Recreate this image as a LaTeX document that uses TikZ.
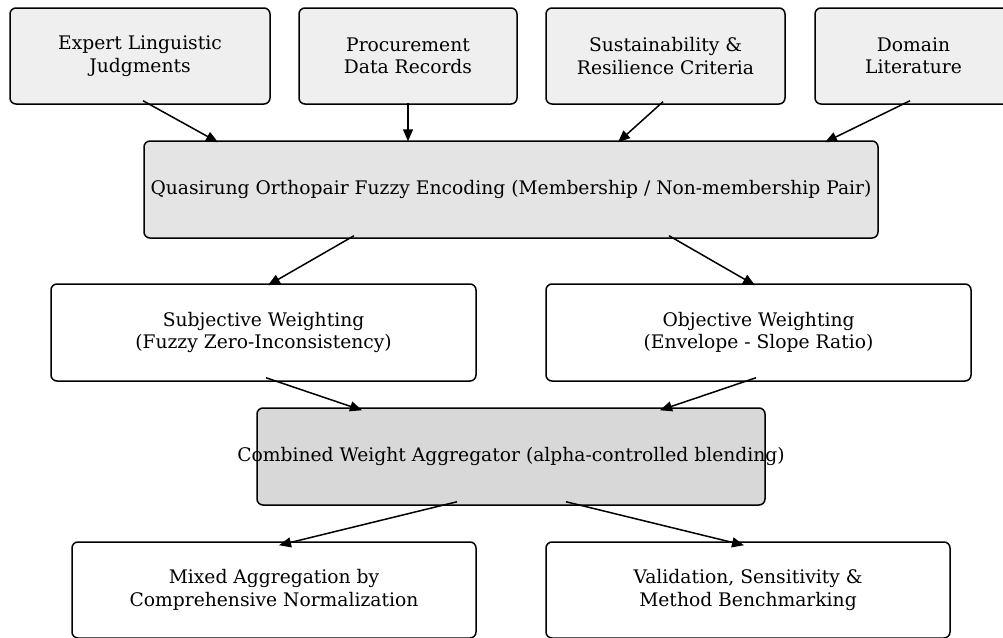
\documentclass[tikz,border=0pt]{standalone}
\usepackage{fontspec}
\setmainfont{DejaVu Serif}
\usetikzlibrary{calc,arrows.meta}
\definecolor{topfill}{HTML}{EFEFEF}
\definecolor{encfill}{HTML}{E4E4E4}
\definecolor{combfill}{HTML}{D8D8D8}
\tikzset{
  box/.style={draw=black, line width=1.5pt, rounded corners=6pt, align=center,
    inner sep=0pt, minimum height=96pt, font=\fontsize{18.7}{22.5}\selectfont},
  arr/.style={line width=1.5pt, -{Triangle[length=12pt,width=10pt]}},
}
\begin{document}
\begin{tikzpicture}[x=1pt,y=-1pt]
\useasboundingbox (0,0) rectangle (1003,637);
\node[box, fill=topfill, minimum width=260pt] (b1) at (140,56) {Expert Linguistic\\Judgments};
\node[box, fill=topfill, minimum width=218pt] (b2) at (408,56) {Procurement\\Data Records};
\node[box, fill=topfill, minimum width=239pt] (b3) at (665.5,56) {Sustainability \&\\Resilience Criteria};
\node[box, fill=topfill, minimum width=197pt] (b4) at (913.5,56) {Domain\\Literature};
\node[box, fill=encfill, minimum width=734pt, minimum height=97pt] (enc) at (511,189.5) {Quasirung Orthopair Fuzzy Encoding (Membership / Non-membership Pair)};
\node[box, fill=white, minimum width=425pt, minimum height=97pt] (subj) at (263.5,332.5) {Subjective Weighting\\(Fuzzy Zero-Inconsistency)};
\node[box, fill=white, minimum width=425pt, minimum height=97pt] (obj) at (758.5,332.5) {Objective Weighting\\(Envelope - Slope Ratio)};
\node[box, fill=combfill, minimum width=508pt, minimum height=97pt] (comb) at (511,456.5) {\makebox[0pt]{Combined Weight Aggregator (alpha-controlled blending)}};
\node[box, fill=white, minimum width=404pt] (mix) at (274,590) {Mixed Aggregation by\\Comprehensive Normalization};
\node[box, fill=white, minimum width=404pt] (val) at (748,590) {Validation, Sensitivity \&\\Method Benchmarking};

\draw[arr] ($(b1.south)+(3,-4)$) -- ($(enc.north)+(-293,2)$);
\draw[arr] ($(b2.south)+(0,-2)$) -- ($(enc.north)+(-103,1)$);
\draw[arr] ($(b3.south)+(-2.5,-3)$) -- ($(enc.north)+(107,2)$);
\draw[arr] ($(b4.south)+(-3.5,-4)$) -- ($(enc.north)+(314,2)$);
\draw[arr] ($(enc.south)+(-157,-3)$) -- ($(subj.north)+(4.5,2)$);
\draw[arr] ($(enc.south)+(158,-3)$) -- ($(obj.north)+(-3.5,2)$);
\draw[arr] ($(subj.south)+(2.5,-4)$) -- ($(comb.north)+(-149,3)$);
\draw[arr] ($(obj.south)+(-2.5,-4)$) -- ($(comb.north)+(149,3)$);
\draw[arr] ($(comb.south)+(-54,-4)$) -- ($(mix.north)+(5,4)$);
\draw[arr] ($(comb.south)+(55,-4)$) -- ($(val.north)+(-4,4)$);
\end{tikzpicture}
\end{document}
